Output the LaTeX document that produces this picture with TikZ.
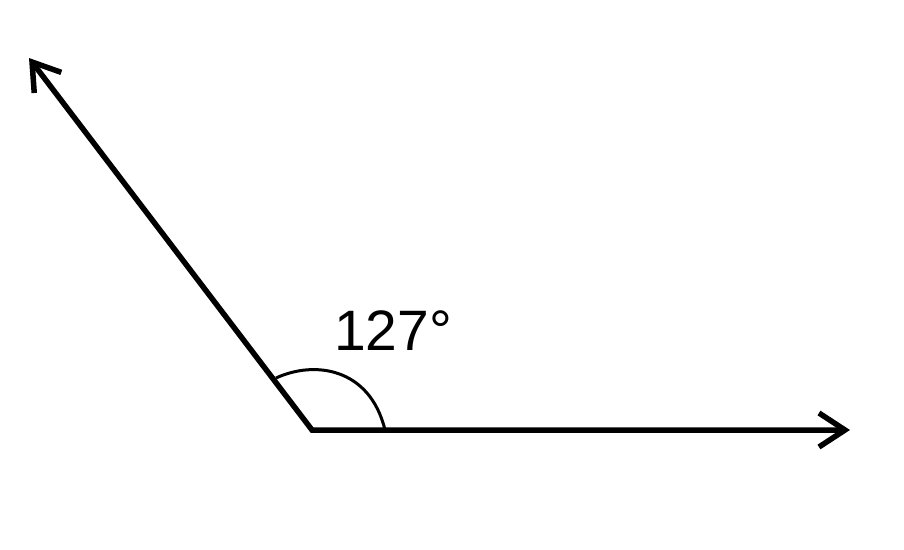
\documentclass[tikz,border=0pt]{standalone}
\usepackage{fontspec}
\setmainfont{Liberation Sans}
\usetikzlibrary{arrows.meta}
\begin{document}
\begin{tikzpicture}[x=1pt,y=-1pt,
  ray/.style={line width=5.5pt, line join=miter,
    {Straight Barb[length=26pt,width=34pt,line width=5.5pt]}-{Straight Barb[length=26pt,width=34pt,line width=5.5pt]}},
  anglemark/.style={line width=3pt},
  lbl/.style={font=\fontsize{57}{57}\selectfont, inner sep=0pt}]
\useasboundingbox (0,0) rectangle (904,549);
\coordinate (V) at (312,430);
\coordinate (R) at (850,430);
\coordinate (L) at (29,58);
\coordinate (A1) at (276,378);
\coordinate (A2) at (385,430);
\draw[ray] (L) -- (V) -- (R);
\draw[anglemark] (A1) .. controls (315,360) and (370,368) .. (A2);
\node[lbl] (t) at (393,331) {127°};
\end{tikzpicture}
\end{document}
